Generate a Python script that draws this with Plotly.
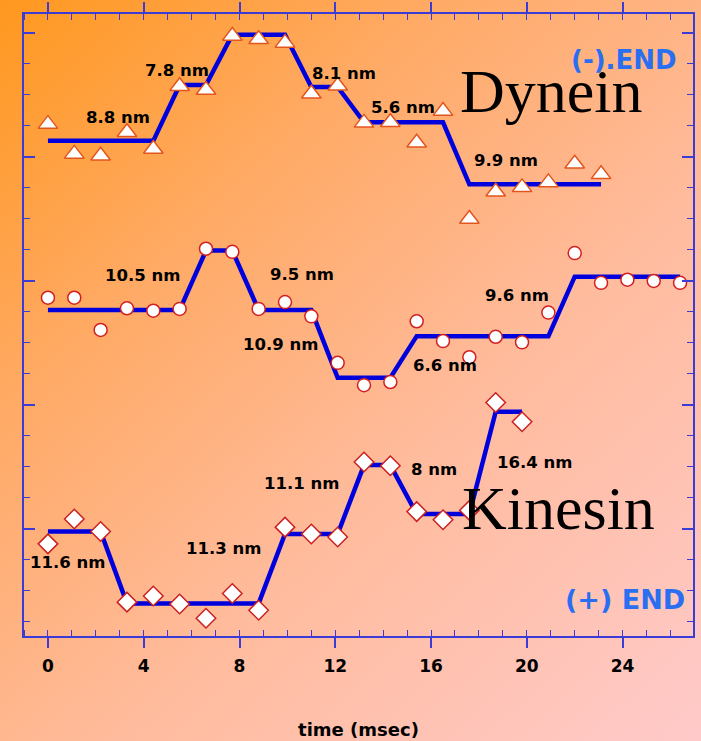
import base64
import plotly.graph_objects as go

# ---------------- data (time in msec, position in nm) ----------------
DT = 1.1
dynein_y = [80.3, 75.5, 75.2, 79.0, 76.3, 86.4, 85.8, 94.5, 94.0, 93.4, 85.2,
            86.5, 80.5, 80.6, 77.3, 82.4, 65.0, 69.4, 70.1, 70.9, 73.9, 72.2]
dynein_fit_idx = [0, 4, 5, 6, 7, 9, 10, 11, 12, 15, 16, 21]
dynein_fit_y = [77.6, 77.6, 86.6, 86.6, 94.7, 94.7, 86.3, 86.3, 80.6, 80.6, 70.6, 70.6]

middle_y = [52.3, 52.3, 47.1, 50.6, 50.2, 50.5, 60.2, 59.7, 50.5, 51.6, 49.3, 41.8, 38.2,
            38.7, 48.5, 45.3, 42.7, 46.0, 45.1, 49.9, 59.5, 54.7, 55.2, 55.0, 54.7]
middle_fit_idx = [0, 5, 6, 7, 8, 10, 11, 13, 14, 19, 20, 24]
middle_fit_y = [50.3, 50.3, 59.9, 59.9, 50.3, 50.3, 39.4, 39.4, 46.1, 46.1, 55.7, 55.7]

kinesin_y = [12.6, 16.6, 14.6, 3.2, 4.2, 2.9, 0.6, 4.6, 1.9, 15.3, 14.2, 13.7,
             25.8, 25.2, 17.8, 16.5, 18.0, 35.4, 32.3]
kinesin_fit_idx = [0, 2, 3, 8, 9, 11, 12, 13, 14, 16, 17, 18]
kinesin_fit_y = [14.6, 14.6, 3.0, 3.0, 14.2, 14.2, 25.3, 25.3, 17.4, 17.4, 33.9, 33.9]

step_labels = ["8.8 nm", "7.8 nm", "8.1 nm", "5.6 nm", "9.9 nm",
               "10.5 nm", "9.5 nm", "10.9 nm", "6.6 nm", "9.6 nm",
               "11.6 nm", "11.3 nm", "11.1 nm", "8 nm", "16.4 nm"]
x_tick_vals = [0, 4, 8, 12, 16, 20, 24]
x_title = "time (msec)"


def times(n):
    return [round(i * DT, 2) for i in range(n)]


def fit_x(idx):
    return [round(i * DT, 2) for i in idx]


# ---------------- figure ----------------
W, H = 701, 741
ML, MR, MT, MB = 24, 8, 14, 105
pw, ph = W - ML - MR, H - MT - MB

svg = f'''<svg xmlns="http://www.w3.org/2000/svg" width="{W}" height="{H}" viewBox="0 0 {W} {H}">
<defs><linearGradient id="g" x1="0" y1="0" x2="{W}" y2="{H}" gradientUnits="userSpaceOnUse">
<stop offset="0" stop-color="#ff981e"/>
<stop offset="0.3" stop-color="#ffaa66"/>
<stop offset="0.6" stop-color="#ffbb9c"/>
<stop offset="1" stop-color="#ffcaca"/>
</linearGradient></defs>
<rect x="0" y="0" width="{W}" height="{H}" fill="url(#g)"/></svg>'''
bg_uri = "data:image/svg+xml;base64," + base64.b64encode(svg.encode()).decode()

LINE_COLOR = "#0000dd"
fig = go.Figure()

for idx, ys in [(dynein_fit_idx, dynein_fit_y), (middle_fit_idx, middle_fit_y),
                (kinesin_fit_idx, kinesin_fit_y)]:
    fig.add_trace(go.Scatter(x=fit_x(idx), y=ys, mode="lines",
                             line=dict(color=LINE_COLOR, width=4.5),
                             hoverinfo="skip", showlegend=False))

fig.add_trace(go.Scatter(x=times(len(dynein_y)), y=dynein_y, mode="markers", name="Dynein",
                         marker=dict(symbol="triangle-up", size=17, color="white",
                                     line=dict(color="#e2561e", width=1.5)),
                         showlegend=False))
fig.add_trace(go.Scatter(x=times(len(middle_y)), y=middle_y, mode="markers", name="middle",
                         marker=dict(symbol="circle", size=13, color="white",
                                     line=dict(color="#d42020", width=1.5)),
                         showlegend=False))
fig.add_trace(go.Scatter(x=times(len(kinesin_y)), y=kinesin_y, mode="markers", name="Kinesin",
                         marker=dict(symbol="diamond", size=15, color="white",
                                     line=dict(color="#cc2020", width=1.5)),
                         showlegend=False))

label_pos = [(2.94, 81.4), (5.37, 88.9), (12.36, 88.5), (14.82, 83.0), (19.11, 74.4),
             (3.95, 55.9), (10.63, 56.0), (9.72, 44.8), (16.57, 41.3), (19.59, 52.6),
             (0.82, 9.6), (7.34, 11.8), (10.61, 22.3), (16.14, 24.6), (20.30, 25.7)]
SANS = "DejaVu Sans"
annotations = []
for txt, (ax, ay) in zip(step_labels, label_pos):
    annotations.append(dict(x=ax, y=ay, text=txt, showarrow=False, xanchor="center",
                            yanchor="middle",
                            font=dict(family=SANS, size=16.5, color="black", weight="bold")))
annotations += [
    dict(x=21.03, y=85.6, text="Dynein", showarrow=False, xanchor="center", yanchor="middle",
         font=dict(family="Liberation Serif", size=62, color="black")),
    dict(x=21.32, y=18.4, text="Kinesin", showarrow=False, xanchor="center", yanchor="middle",
         font=dict(family="Liberation Serif", size=62, color="black")),
    dict(x=24.07, y=90.6, text="(-).END", showarrow=False, xanchor="center", yanchor="middle",
         font=dict(family=SANS, size=26, color="#2a6ef2", weight="bold")),
    dict(x=24.12, y=3.66, text="(+) END", showarrow=False, xanchor="center", yanchor="middle",
         font=dict(family=SANS, size=27, color="#2a6ef2", weight="bold")),
]

AXIS_COLOR = "#3b3bd6"
fig.update_layout(
    width=W, height=H,
    margin=dict(l=ML, r=MR, t=MT, b=MB, autoexpand=False),
    paper_bgcolor="#ffb080",
    plot_bgcolor="rgba(0,0,0,0)",
    images=[dict(source=bg_uri, xref="paper", yref="paper",
                 x=-ML / pw, y=1 + MT / ph, sizex=W / pw, sizey=H / ph,
                 xanchor="left", yanchor="top", sizing="stretch", layer="below")],
    annotations=annotations,
    xaxis=dict(range=[-1.0, 26.94], showgrid=False, zeroline=False,
               showline=True, linecolor=AXIS_COLOR, linewidth=1.5, mirror="ticks",
               tickmode="array", tickvals=x_tick_vals, ticks="outside", ticklen=10,
               tickwidth=1.5, tickcolor=AXIS_COLOR, ticklabelstandoff=4,
               tickfont=dict(family=SANS, size=17, color="black", weight="bold"),
               minor=dict(ticks="inside", dtick=1, tick0=0, ticklen=6, tickwidth=1,
                          tickcolor=AXIS_COLOR, showgrid=False),
               title=dict(text=x_title, standoff=48,
                          font=dict(family=SANS, size=18, color="black", weight="bold"))),
    yaxis=dict(range=[-2.26, 98.06], showgrid=False, zeroline=False,
               showline=True, linecolor=AXIS_COLOR, linewidth=1.5, mirror="ticks",
               tick0=15, dtick=20, ticks="inside", ticklen=11, tickwidth=1.5,
               tickcolor=AXIS_COLOR, showticklabels=False,
               minor=dict(ticks="inside", dtick=5, tick0=0, ticklen=6, tickwidth=1,
                          tickcolor=AXIS_COLOR, showgrid=False)),
)

fig.write_html("out.html",
               config={"displayModeBar": False},
               post_script="document.body.style.margin='0';"
                           "document.body.style.overflow='hidden';")
